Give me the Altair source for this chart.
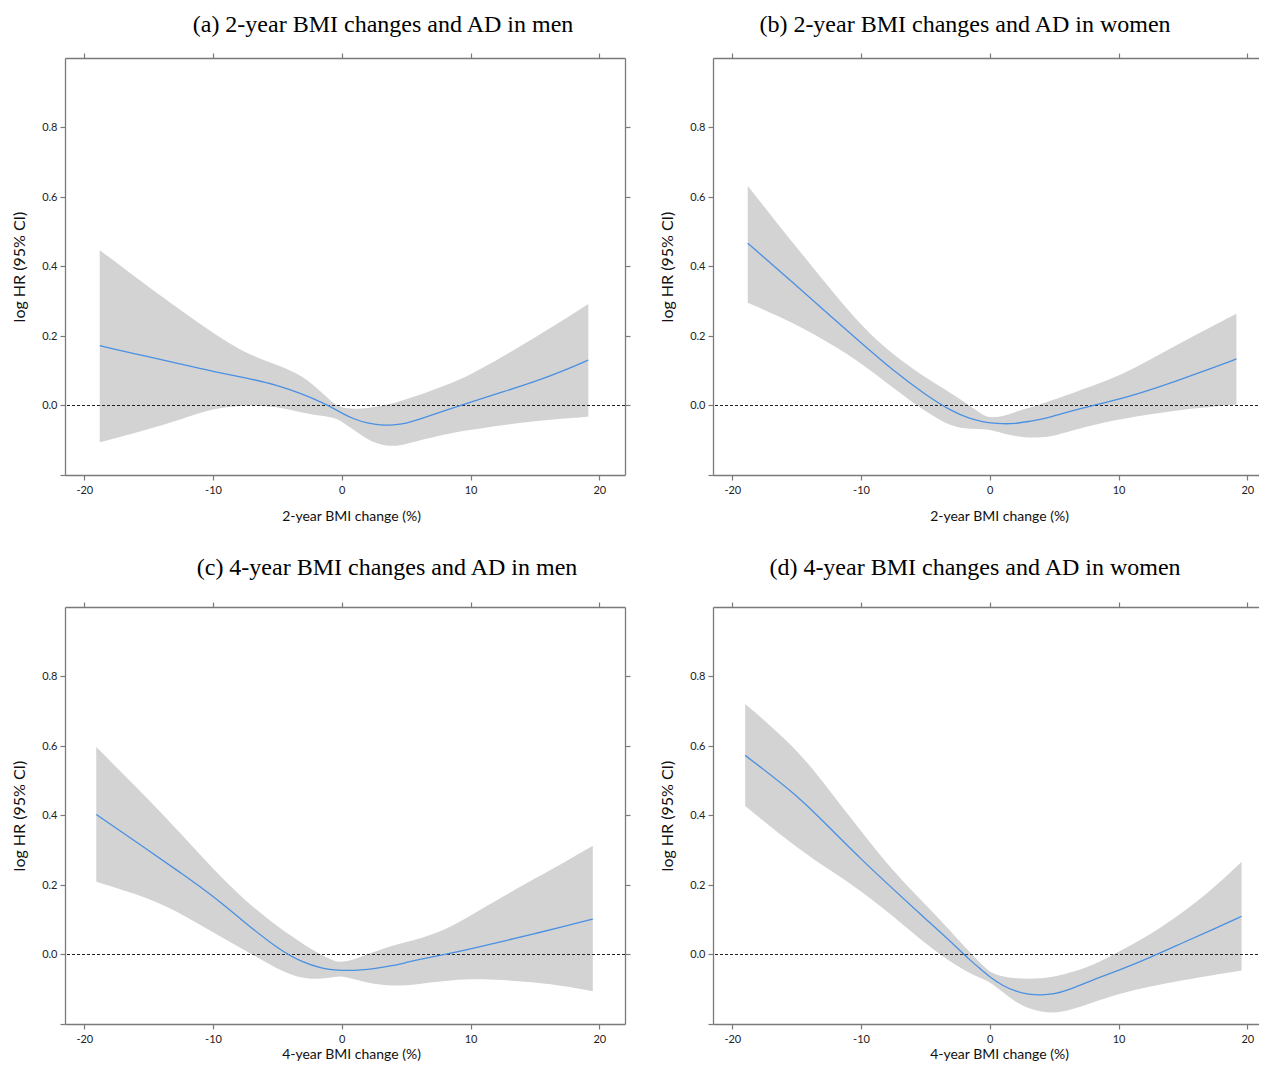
import altair as alt
import pandas as pd

# ---------------- data ----------------
# (a) 2-year BMI change, men
x_a = [-18.8, -15, -12.5, -10, -7.5, -5, -3, -1.5, -0.5, 0, 1, 2, 3, 4, 5, 6, 8, 10, 12.5, 15, 17.5, 19.15]
est_a = [0.172, 0.140, 0.119, 0.098, 0.080, 0.059, 0.032, 0.008, -0.011, -0.022, -0.040, -0.051, -0.057, -0.056,
         -0.052, -0.040, -0.015, 0.010, 0.039, 0.068, 0.104, 0.131]
hi_a = [0.447, 0.341, 0.274, 0.208, 0.150, 0.117, 0.086, 0.035, 0.001, -0.006, -0.010, -0.008, -0.002, 0.006,
        0.018, 0.030, 0.057, 0.088, 0.140, 0.196, 0.252, 0.292]
lo_a = [-0.106, -0.068, -0.040, -0.008, 0.002, -0.003, -0.022, -0.030, -0.036, -0.046, -0.072, -0.098, -0.113, -0.118,
        -0.111, -0.101, -0.082, -0.070, -0.056, -0.045, -0.037, -0.032]

# (b) 2-year BMI change, women
x_b = [-18.8, -15, -12.5, -10, -7.5, -5, -3, -1.5, -0.5, 0, 1, 2, 3, 4, 5, 6, 8, 10, 12.5, 15, 17.5, 19.16]
est_b = [0.467, 0.344, 0.262, 0.180, 0.100, 0.031, -0.016, -0.039, -0.047, -0.050, -0.053, -0.052, -0.046, -0.040,
         -0.030, -0.019, 0.000, 0.017, 0.045, 0.077, 0.111, 0.134]
hi_b = [0.632, 0.454, 0.341, 0.229, 0.145, 0.080, 0.036, -0.002, -0.028, -0.035, -0.032, -0.018, -0.007, 0.004,
        0.017, 0.030, 0.057, 0.084, 0.133, 0.184, 0.232, 0.264]
lo_b = [0.296, 0.234, 0.180, 0.123, 0.050, -0.018, -0.062, -0.068, -0.068, -0.070, -0.080, -0.088, -0.093, -0.092,
        -0.087, -0.076, -0.056, -0.040, -0.025, -0.011, -0.003, 0.003]

# (c) 4-year BMI change, men
x_c = [-19.07, -15, -12.5, -10, -7.5, -5, -3, -1.5, -0.5, 0, 1, 2, 3, 4, 5, 6, 8, 10, 12.5, 15, 17.5, 19.5]
est_c = [0.403, 0.299, 0.235, 0.169, 0.091, 0.017, -0.024, -0.040, -0.045, -0.046, -0.046, -0.043, -0.038, -0.032,
         -0.023, -0.014, 0.000, 0.016, 0.038, 0.060, 0.083, 0.102]
hi_c = [0.597, 0.446, 0.348, 0.246, 0.154, 0.080, 0.030, -0.004, -0.020, -0.022, -0.014, 0.001, 0.014, 0.026,
        0.036, 0.045, 0.070, 0.112, 0.166, 0.219, 0.270, 0.313]
lo_c = [0.209, 0.163, 0.118, 0.064, 0.012, -0.043, -0.071, -0.070, -0.064, -0.062, -0.071, -0.081, -0.087, -0.090,
        -0.089, -0.085, -0.076, -0.070, -0.073, -0.080, -0.092, -0.106]

# (d) 4-year BMI change, women
x_d = [-19.0, -15, -12.5, -10, -7.5, -5, -3, -1.5, -0.5, 0, 1, 2, 3, 4, 5, 6, 8, 10, 12.5, 15, 17.5, 19.56]
est_d = [0.573, 0.460, 0.367, 0.274, 0.188, 0.103, 0.036, -0.018, -0.048, -0.065, -0.090, -0.106, -0.115, -0.117,
         -0.114, -0.104, -0.073, -0.046, -0.008, 0.034, 0.075, 0.110]
hi_d = [0.721, 0.594, 0.474, 0.355, 0.239, 0.144, 0.066, 0.004, -0.033, -0.051, -0.064, -0.069, -0.070, -0.069,
        -0.064, -0.055, -0.032, 0.007, 0.058, 0.120, 0.195, 0.267]
lo_d = [0.427, 0.307, 0.245, 0.183, 0.110, 0.031, -0.023, -0.055, -0.071, -0.079, -0.108, -0.137, -0.155, -0.165,
        -0.168, -0.163, -0.138, -0.113, -0.091, -0.074, -0.058, -0.046]

titles = [
    "(a) 2-year BMI changes and AD in men",
    "(b) 2-year BMI changes and AD in women",
    "(c) 4-year BMI changes and AD in men",
    "(d) 4-year BMI changes and AD in women",
]
x_titles = ["2-year BMI change (%)", "2-year BMI change (%)", "4-year BMI change (%)", "4-year BMI change (%)"]
y_title = "log HR (95% CI)"
x_ticks = [-20, -10, 0, 10, 20]
y_ticks_left = [-0.2, 0.0, 0.2, 0.4, 0.6, 0.8]
y_ticks_right = [0.0, 0.2, 0.4, 0.6, 0.8]

# ---------------- styling ----------------
SANS = "Lato"
SERIF = "Liberation Serif"
AXIS_COLOR = "#7a7a7a"
BAND_COLOR = "#d3d3d3"
LINE_COLOR = "#4a90e2"
X_DOMAIN = [-21.5, 22.0]
Y_DOMAIN = [-0.2, 1.0]
W, H = 560, 417

X_LABEL = "datum.value < 0 ? '-' + abs(datum.value) : '' + datum.value"
Y_LABEL = "datum.value < -0.1 ? '' : format(datum.value, '.1f')"


def panel(title, xtitle, xs, est, lo, hi, dx, offset, xtitle_pad):
    df = pd.DataFrame({"x": xs, "est": est, "lo": lo, "hi": hi})
    xs_ = alt.Scale(domain=X_DOMAIN, nice=False, zero=False)
    ys_ = alt.Scale(domain=Y_DOMAIN, nice=False, zero=False)
    base = alt.Chart(df)

    band = base.mark_area(color=BAND_COLOR, opacity=1, interpolate="basis").encode(
        x=alt.X("x:Q", scale=xs_, axis=alt.Axis(
            orient="bottom", values=x_ticks, labelExpr=X_LABEL, title=xtitle,
            labelPadding=4, titlePadding=xtitle_pad, titleX=W / 2 + 6)),
        y=alt.Y("lo:Q", scale=ys_, axis=alt.Axis(
            orient="left", values=y_ticks_left, title=y_title, labelExpr=Y_LABEL,
            labelPadding=3, titlePadding=14, titleFontSize=16)),
        y2="hi:Q",
    )
    zero = alt.Chart(pd.DataFrame({"z": [0.0]})).mark_rule(
        color="#222222", strokeDash=[3, 2], strokeWidth=1
    ).encode(y=alt.Y("z:Q", scale=ys_, axis=None))
    line = base.mark_line(color=LINE_COLOR, strokeWidth=1.3, interpolate="basis").encode(
        x=alt.X("x:Q", scale=xs_, axis=None),
        y=alt.Y("est:Q", scale=ys_, axis=None),
    )
    frame = base.mark_point(opacity=0).encode(
        x=alt.X("x:Q", scale=xs_, axis=alt.Axis(
            orient="top", values=x_ticks, labels=False, title=None)),
        y=alt.Y("est:Q", scale=ys_, axis=alt.Axis(
            orient="right", values=y_ticks_right, labels=False, title=None)),
    )
    return alt.layer(band, zero, line, frame).resolve_axis(
        x="independent", y="independent"
    ).properties(
        width=W, height=H,
        title=alt.TitleParams(title, font=SERIF, fontSize=24, fontWeight="normal",
                              color="black", anchor="middle", dx=dx, offset=offset),
    )


pa = panel(titles[0], x_titles[0], x_a, est_a, lo_a, hi_a, 38, 15.5, 14)
pb = panel(titles[1], x_titles[1], x_b, est_b, lo_b, hi_b, -28, 15.5, 14)
pc = panel(titles[2], x_titles[2], x_c, est_c, lo_c, hi_c, 42, 21.5, 3)
pd_ = panel(titles[3], x_titles[3], x_d, est_d, lo_d, hi_d, -18, 21.5, 3)

chart = alt.concat(
    pa, pb, pc, pd_, columns=2, spacing={"row": 132, "column": 88}, bounds="flush"
).properties(
    padding={"left": 3, "top": 4, "right": -20, "bottom": 0}
).configure_view(stroke=None).configure_axis(
    grid=False,
    domainColor=AXIS_COLOR, domainWidth=1.3,
    tickColor=AXIS_COLOR, tickWidth=1.2, tickSize=5,
    labelFont=SANS, labelFontSize=11, labelColor="#222222",
    titleFont=SANS, titleFontSize=14, titleFontWeight="normal", titleColor="#111111",
)

chart.save("out.html", embed_options={"renderer": "svg", "actions": False})
